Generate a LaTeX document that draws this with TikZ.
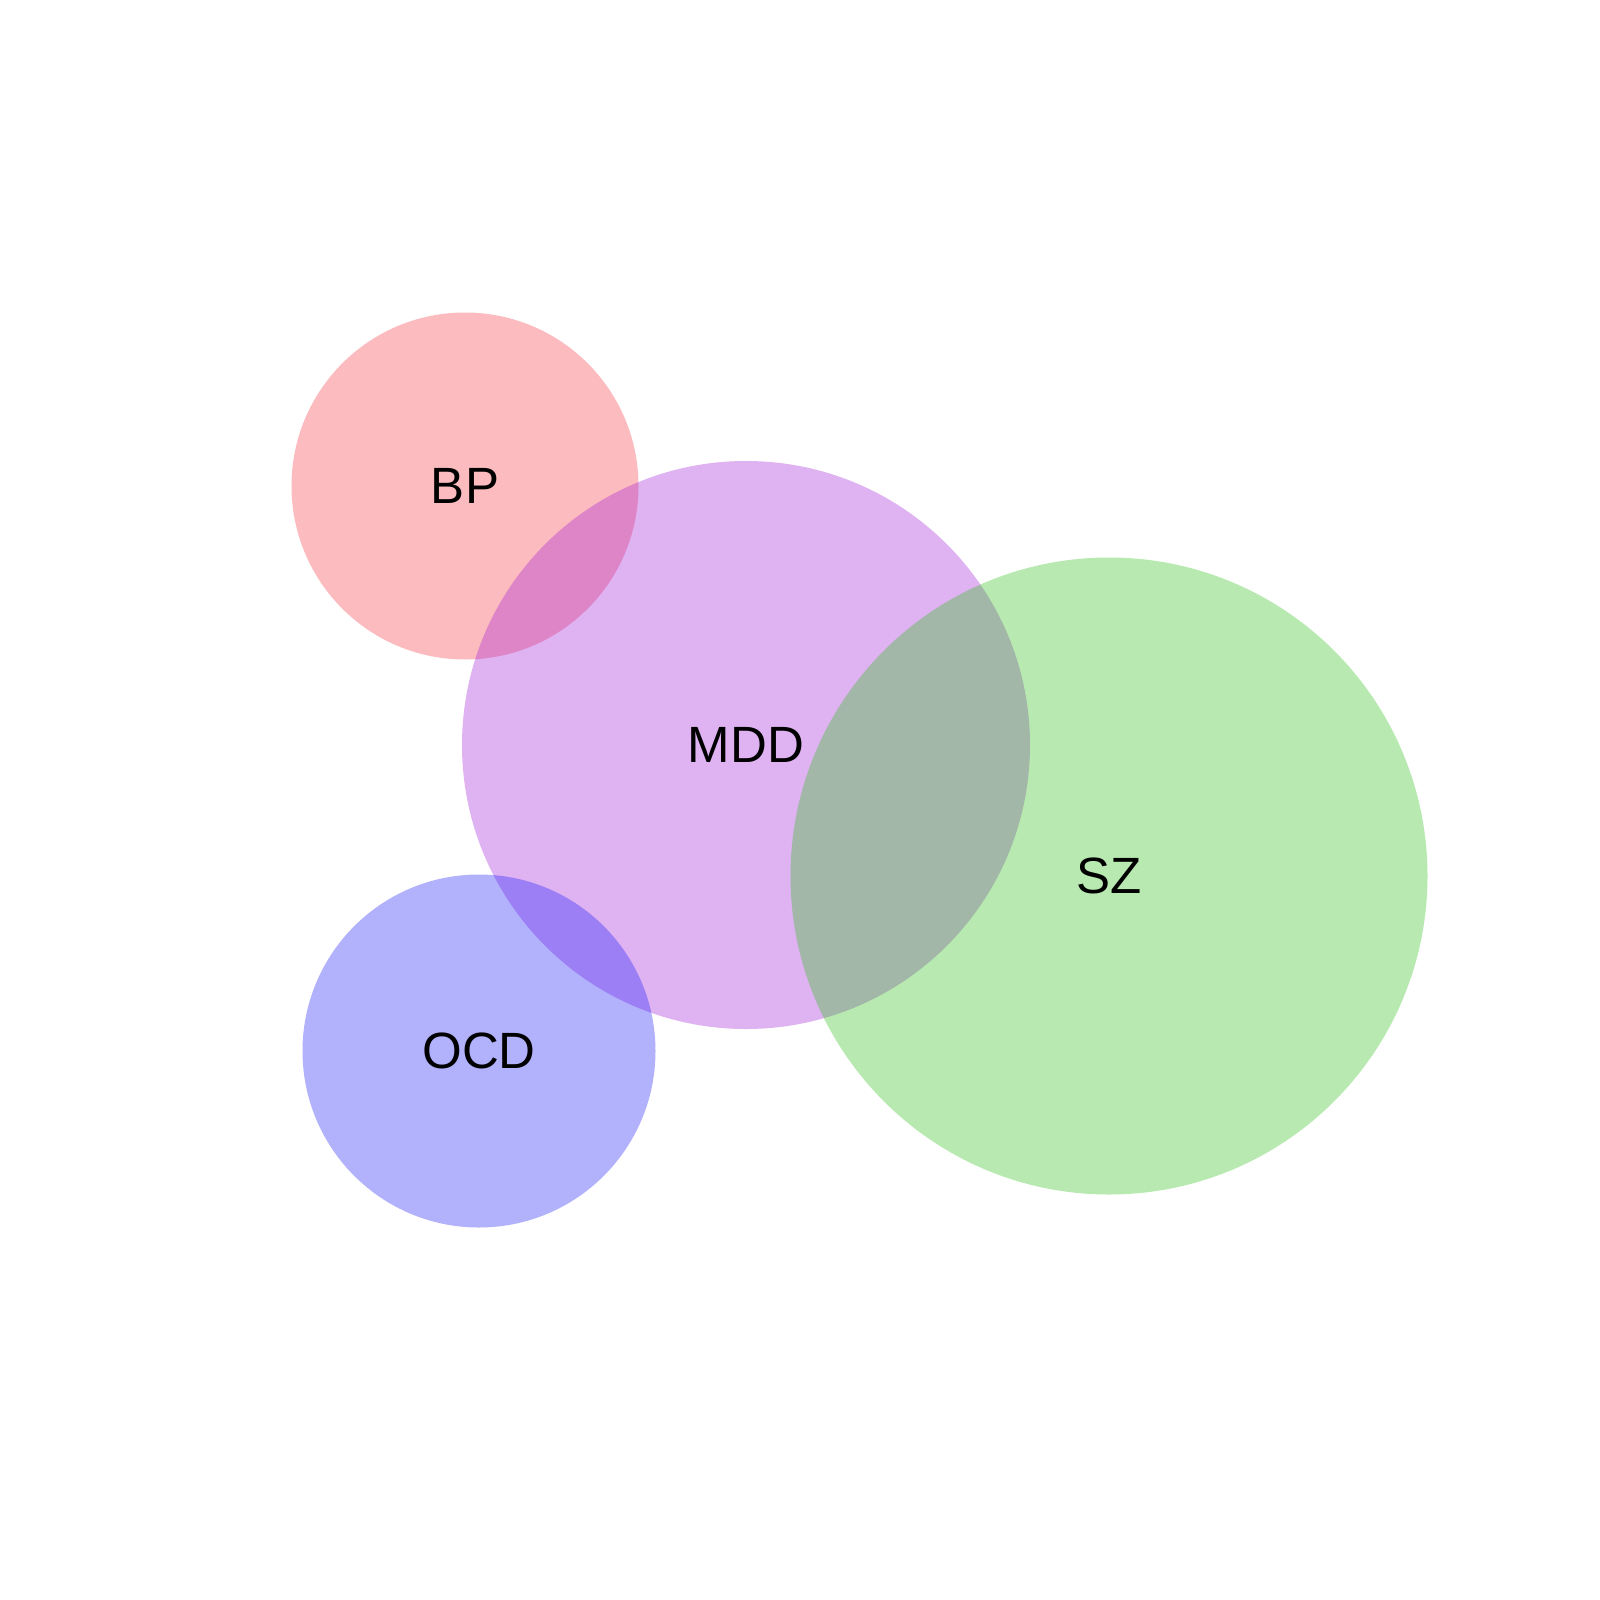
\documentclass[tikz,border=0pt]{standalone}
\usepackage{fontspec}
\setmainfont{Liberation Sans}
\definecolor{cBP}{RGB}{249,58,70}
\definecolor{cMDD}{RGB}{164,31,217}
\definecolor{cSZ}{RGB}{49,193,29}
\definecolor{cOCD}{RGB}{29,29,249}
\begin{document}
\begin{tikzpicture}[x=0.01cm,y=-0.01cm,
  setcircle/.style={fill opacity=0.34, draw=none},
  setlabel/.style={font=\fontsize{14.5pt}{17pt}\selectfont, text=black, inner sep=0pt}]
\useasboundingbox (0,0) rectangle (1600,1600);
\fill[white] (0,0) rectangle (1600,1600);
\fill[setcircle, cBP] (465,486) circle[radius=173.5];
\fill[setcircle, cMDD] (746,745) circle[radius=284];
\fill[setcircle, cSZ] (1109,876) circle[radius=318.5];
\fill[setcircle, cOCD] (479,1051) circle[radius=176.5];
\node[setlabel] (bp) at (465,486) {BP};
\node[setlabel] (mdd) at (746,745) {MDD};
\node[setlabel] (sz) at (1109,876) {SZ};
\node[setlabel] (ocd) at (479,1051) {OCD};
\end{tikzpicture}
\end{document}
